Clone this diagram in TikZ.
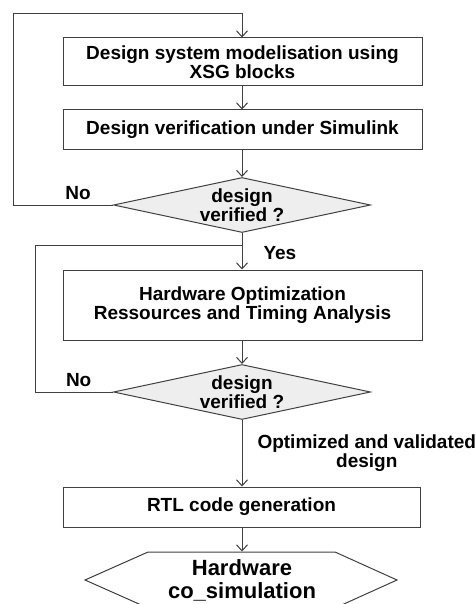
\documentclass[tikz,border=0pt]{standalone}
\usepackage{fontspec}
\setmainfont{Liberation Sans}
\usepackage{xcolor}
\usetikzlibrary{shapes.geometric,arrows.meta}
\definecolor{linegray}{HTML}{404040}
\definecolor{diafill}{HTML}{EEEEEE}

\begin{document}
\begin{tikzpicture}[x=1pt,y=1pt,line width=1pt,color=linegray,text=black,
        font=\fontsize{19}{19}\selectfont\bfseries,
        >={Straight Barb[length=6pt,width=11pt]},
        box/.style={draw=linegray,rectangle,minimum width=359pt,inner sep=0pt,align=center},
        decision/.style={draw=linegray,fill=diafill,diamond,inner sep=0pt,minimum width=257pt,minimum height=55pt},
        lbl/.style={inner sep=0pt,align=center}]
        \useasboundingbox (0,0) rectangle (475,-604);
        \node[box,minimum height=48pt] (model) at (242.5,-62) {Design system modelisation using\\XSG blocks};
        \node[box,minimum height=40pt] (simu) at (242.5,-130) {Design verification under Simulink};
        \node[decision] (verif1) at (242,-205) {};
        \node[lbl] (verif1txt) at (verif1) {design\\verified ?};
        \node[box,minimum height=70pt] (optim) at (242.5,-305) {Hardware Optimization\\Ressources and Timing Analysis};
        \node[decision] (verif2) at (242,-392) {};
        \node[lbl] (verif2txt) at (verif2) {design\\verified ?};
        \node[box,minimum width=357pt,minimum height=40pt] (rtl) at (241.5,-507) {RTL code generation};
        \node[lbl,minimum height=56pt,font=\fontsize{22}{23}\selectfont\bfseries] (cosim) at (242,-580) {Hardware\\co\_simulation};
        \draw (148,-552) -- (335,-552) -- (397,-580) -- (335,-608) -- (148,-608) -- (85,-580) -- cycle;
        \coordinate (back1) at (13,-14);
        \coordinate (back2) at (35,-245);
        \draw[->] (model.south -| verif1) -- (simu.north -| verif1);
        \draw[->] (simu.south -| verif1) -- (verif1.north);
        \draw[->] (verif1.west) --node[lbl,above=5pt,pos=0.35]{No} (verif1.west -| back1) -- (back1) -- (back1 -| verif1) -- (model.north -| verif1);
        \draw[->] (verif1.south) --node[lbl,right=21pt,pos=0.55]{Yes} (optim.north -| verif1);
        \draw (verif2.west) --node[lbl,above=5pt,pos=0.44]{No} (verif2.west -| back2) -- (back2) -- (back2 -| verif1);
        \draw[->] (optim.south -| verif2) -- (verif2.north);
        \draw[->] (verif2.south) --node[lbl,right=15pt]{Optimized and validated\\design} (rtl.north -| verif2);
        \draw[->] (rtl.south -| cosim) -- (cosim.north);
    \end{tikzpicture}
\end{document}
